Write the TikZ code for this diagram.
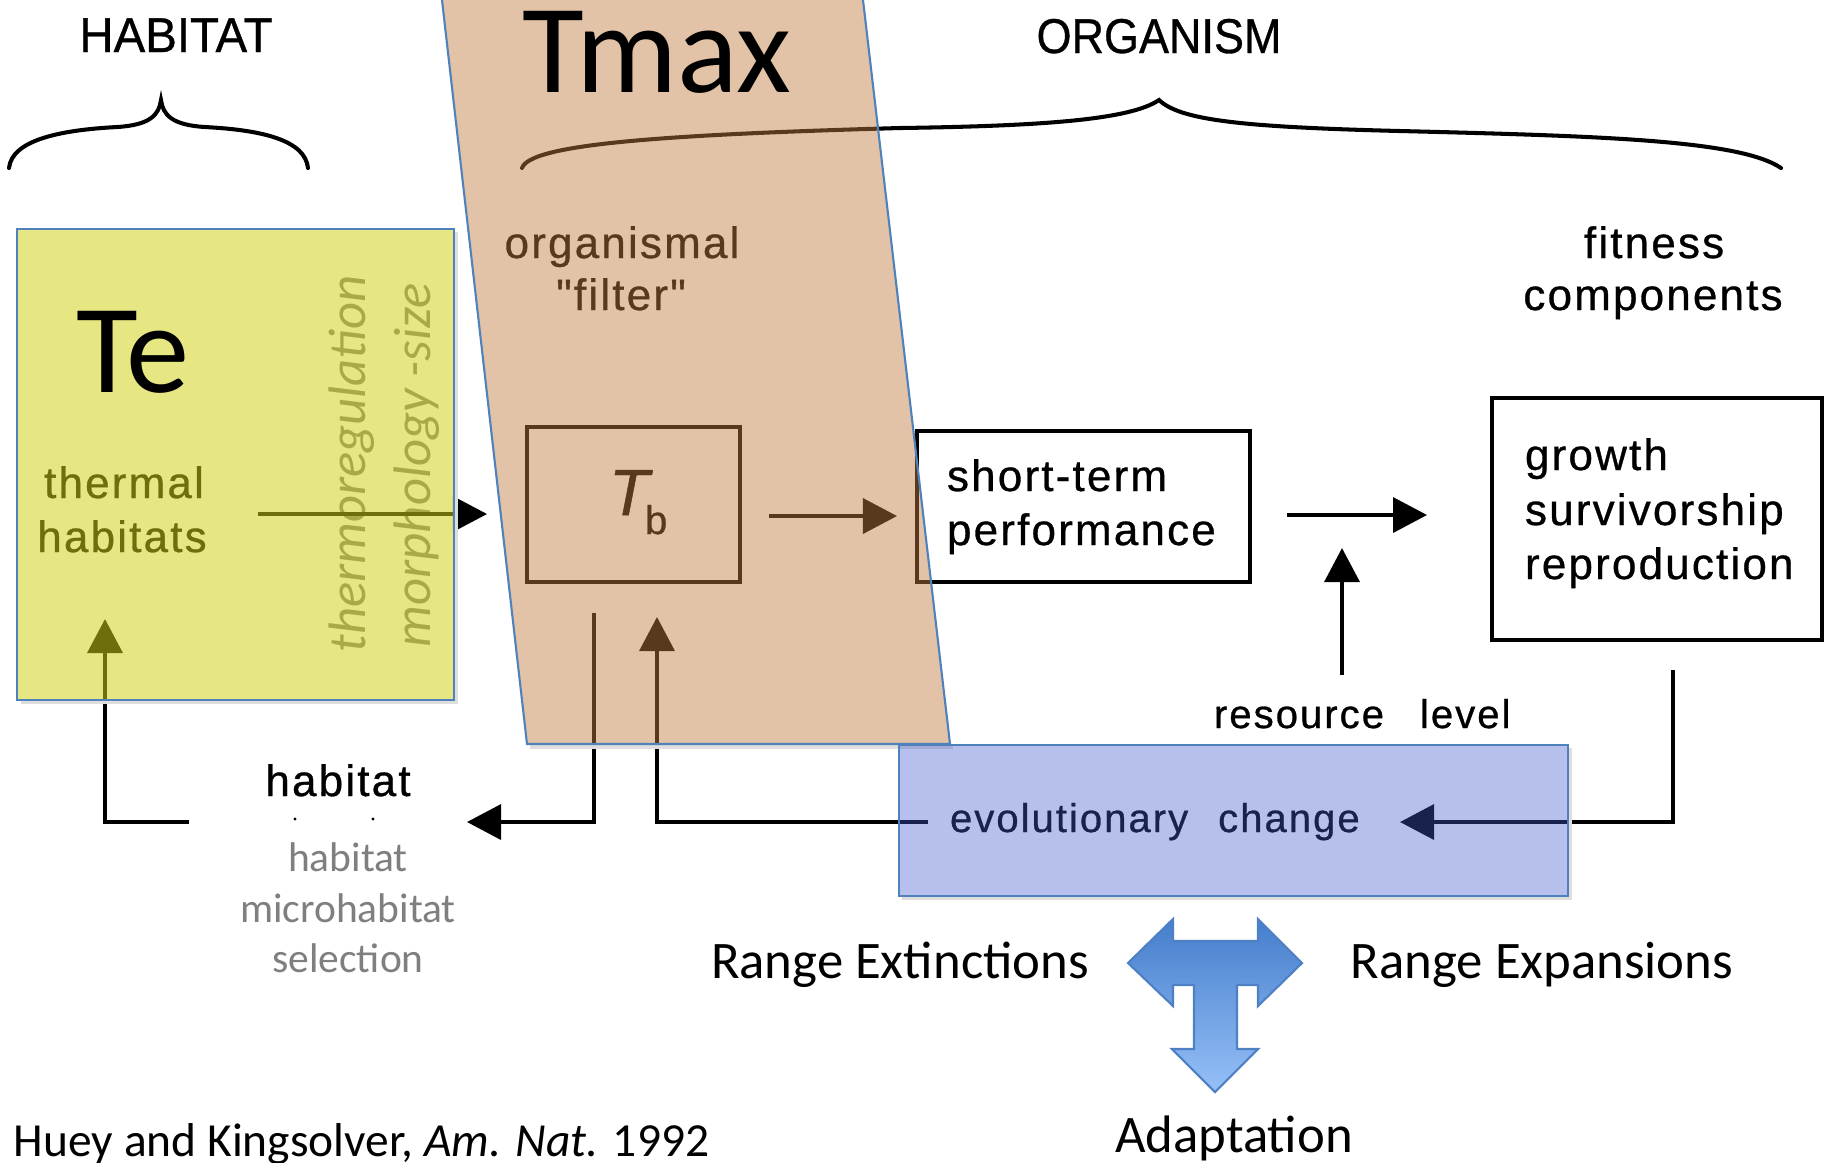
\documentclass[tikz,border=0pt]{standalone}
\usepackage{fontspec}
\setmainfont{Carlito}
\newfontfamily\scanfont{Liberation Sans}[LetterSpace=5, FakeBold=0.7]
\newfontfamily\scanplain{Liberation Sans}[FakeBold=0.7]
\newfontfamily\calfont{Carlito}
\usetikzlibrary{arrows.meta}
\definecolor{ovyellow}{RGB}{208,208,19}
\definecolor{ovtan}{RGB}{196,126,65}
\definecolor{ovblue}{RGB}{66,92,210}
\definecolor{ppblue}{RGB}{79,129,189}
\definecolor{txtgray}{RGB}{127,127,127}
\definecolor{arrtop}{RGB}{70,126,204}
\definecolor{arrbot}{RGB}{150,192,247}
\definecolor{arredge}{RGB}{78,128,196}
\tikzset{
  every node/.style={inner sep=0pt, outer sep=0pt},
  ln/.style={line width=1pt},
  arr/.style={ln, -{Triangle[length=0.34cm,width=0.35cm]}},
  box/.style={draw, line width=1pt},
  br/.style={line width=1.15pt, line cap=round},
  hdr/.style={font=\scanplain\fontsize{13.9pt}{16pt}\selectfont},
  scan/.style={font=\scanfont\fontsize{12.5pt}{15pt}\selectfont},
  scansm/.style={font=\scanfont\fontsize{11.4pt}{14pt}\selectfont},
  big/.style={font=\calfont\fontsize{36pt}{40pt}\selectfont},
  cal/.style={font=\calfont\fontsize{15pt}{18pt}\selectfont},
  grayrot/.style={font=\calfont\itshape\fontsize{15pt}{18pt}\selectfont, text=txtgray, rotate=90, anchor=base},
  graysel/.style={font=\calfont\fontsize{11.8pt}{14pt}\selectfont, text=txtgray, anchor=base},
  shadowline/.style={line width=1pt, black!13},
  overlayedge/.style={draw=ppblue, line width=0.6pt},
}
\begin{document}
\begin{tikzpicture}[x=0.01cm,y=-0.01cm]
\useasboundingbox (0,0) rectangle (1834,1162);
\fill[white] (0,0) rectangle (1834,1162);

% ---------- braces and headers ----------
\draw[br] (9,168) .. controls (12,140) and (60,130) .. (117,127)
  .. controls (150,125) and (159,115) .. (161,100)
  .. controls (163,115) and (172,125) .. (205,127)
  .. controls (262,130) and (305,140) .. (308,168);
\draw[br] (522,168) .. controls (530,145) and (650,135) .. (900,128)
  .. controls (1040,126) and (1130,120) .. (1159,100)
  .. controls (1180,120) and (1240,127) .. (1400,131)
  .. controls (1600,136) and (1740,140) .. (1781,168);
\node[hdr, anchor=base, xscale=0.97] (habhdr) at (176,52) {HABITAT};
\node[hdr, anchor=base, xscale=0.92] (orghdr) at (1159,53) {ORGANISM};

% ---------- scanned texts ----------
\node[scan, anchor=base] (org1) at (622,258) {organismal};
\node[scan, anchor=base] (org2) at (621,310) {\symbol{34}filter\symbol{34}};
\node[scan, anchor=base] (fit1) at (1654,258) {fitness};
\node[scan, anchor=base] (fit2) at (1653,310) {components};
\node[scan, anchor=base] (th1) at (124,498) {thermal};
\node[scan, anchor=base] (th2) at (122,552) {habitats};
\node[scan, anchor=base west] (st1) at (947,491) {short-term};
\node[scan, anchor=base west] (st2) at (947,545) {performance};
\node[scan, anchor=base west] (gr1) at (1525,470) {growth};
\node[scan, anchor=base west] (gr2) at (1525,525) {survivorship};
\node[scan, anchor=base west] (gr3) at (1525,579) {reproduction};
\node[scan, anchor=base] (habsel) at (338,796) {habitat};
\node[scansm, anchor=base west] (res) at (1214,728) {resource\hspace{0.36cm}level};
\node[scansm, anchor=base west] (evo) at (950,832) {evolutionary\hspace{0.3cm}change};
\node[font=\scanplain\itshape\fontsize{18.6pt}{20pt}\selectfont, anchor=base west] (tbT) at (609,515) {T};
\node[font=\scanplain\fontsize{11.4pt}{13pt}\selectfont, anchor=base west] (tbb) at (645,534) {b};
\fill (295,819) circle (1.6);
\fill (373,819) circle (1.6);

% grey texts
\node[grayrot] (rot1) at (365,464) {thermoregulation};
\node[grayrot] (rot2) at (430,465) {morphology -size};
\node[graysel] (sel1) at (348,871) {habitat};
\node[graysel] (sel2) at (348,922) {microhabitat};
\node[graysel] (sel3) at (348,972) {selection};

% ---------- boxes ----------
\node[box, minimum width=2.13cm, minimum height=1.55cm] (tb) at (633.5,504.5) {};
\node[box, minimum width=3.33cm, minimum height=1.51cm] (stp) at (1083.5,506.5) {};
\node[box, minimum width=3.30cm, minimum height=2.42cm] (fitbox) at (1657,519) {};

% ---------- connectors ----------
\coordinate (thS) at (258,514);   \coordinate (thE) at (487,514);
\coordinate (tbS) at (769,516);   \coordinate (tbE) at (897,516);
\coordinate (stS) at (1287,515);  \coordinate (stE) at (1427,515);
\coordinate (resS) at (1342,675); \coordinate (resE) at (1342,548);
\coordinate (fitS) at (1673,670); \coordinate (fitC) at (1673,822); \coordinate (fitE) at (1400,822);
\coordinate (evoS) at (928,822);  \coordinate (evoC) at (657,822);  \coordinate (evoE) at (657,617);
\coordinate (tbdS) at (594,613);  \coordinate (tbdC) at (594,822);  \coordinate (tbdE) at (467,822);
\coordinate (habS) at (189,822);  \coordinate (habC) at (105,822);  \coordinate (habE) at (105,619);
\draw[arr] (thS) -- (thE);
\draw[arr] (tbS) -- (tbE);
\draw[arr] (stS) -- (stE);
\draw[arr] (resS) -- (resE);
\draw[arr] (fitS) -- (fitC) -- (fitE);
\draw[arr] (evoS) -- (evoC) -- (evoE);
\draw[arr] (tbdS) -- (tbdC) -- (tbdE);
\draw[arr] (habS) -- (habC) -- (habE);

% ---------- shadows ----------
\draw[shadowline] (21,702.5) -- (456.5,702.5) -- (456.5,232);
\draw[shadowline] (530,747) -- (952.5,747);
\draw[shadowline] (902,898.5) -- (1570.5,898.5) -- (1570.5,748);

% ---------- translucent overlays ----------
\fill[ovyellow, fill opacity=0.53] (17,229) rectangle (454,700);
\draw[overlayedge] (17,229) rectangle (454,700);
\fill[ovtan, fill opacity=0.46] (442,0) -- (863,0) -- (950,744) -- (527,744) -- cycle;
\draw[overlayedge] (442,0) -- (527,744) -- (950,744) -- (863,0);
\fill[ovblue, fill opacity=0.38] (899,745) rectangle (1568,896);
\draw[overlayedge] (899,745) rectangle (1568,896);

% ---------- top layer ----------
\node[big, anchor=base] (tmax) at (657,92) {Tmax};
\node[big, anchor=base west] (te) at (76,392) {Te};

\shade[top color=arrtop, bottom color=arrbot, draw=arredge, line width=0.6pt]
  (1128,963) -- (1173,919) -- (1173,941) -- (1258,941) -- (1258,919) -- (1302,963)
  -- (1258,1006) -- (1258,985) -- (1237,985) -- (1237,1049) -- (1258,1049)
  -- (1215,1092) -- (1172,1049) -- (1194,1049) -- (1194,985) -- (1173,985)
  -- (1173,1006) -- cycle;

\node[cal, anchor=base] (rext) at (900,978) {Range Extinctions};
\node[cal, anchor=base] (rexp) at (1542,978) {Range Expansions};
\node[cal, anchor=base] (adapt) at (1234,1152) {Adaptation};
\node[font=\calfont\fontsize{13.5pt}{16pt}\selectfont, anchor=base west] (cite) at (14,1156) {Huey and Kingsolver, \textit{Am. Nat.} 1992};
\end{tikzpicture}
\end{document}
